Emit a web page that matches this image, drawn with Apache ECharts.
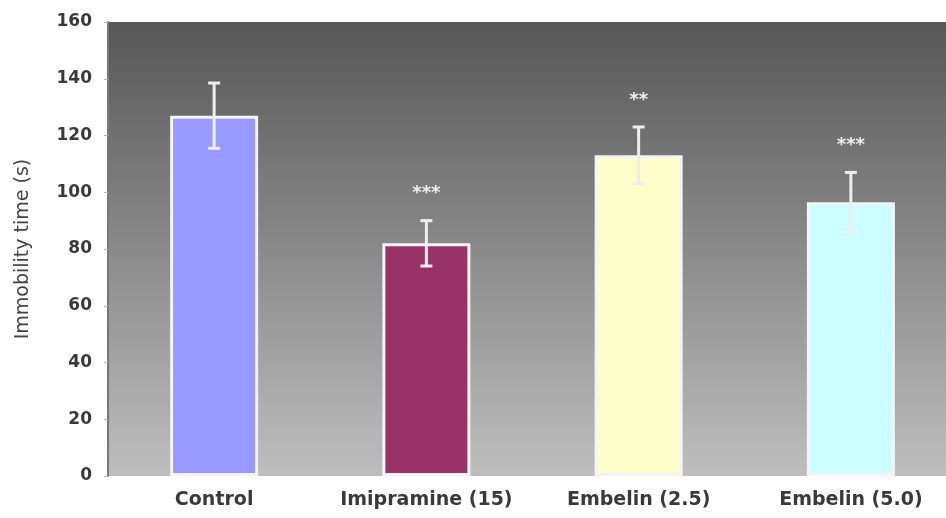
<!DOCTYPE html>
<html>
<head>
<meta charset="utf-8">
<script src="https://cdn.jsdelivr.net/npm/echarts@6/dist/echarts.min.js"></script>
<style>
  html, body { margin: 0; padding: 0; background: #fff; }
  #main { width: 946px; height: 518px; }
</style>
</head>
<body>
<div id="main"></div>
<script>
var groups = ['Control', 'Imipramine (15)', 'Embelin (2.5)', 'Embelin (5.0)'];
var meanTime = [127, 82, 113, 96.5];
var semTime = [11.5, 8, 10, 10.5];
var stars = ['', '***', '**', '***'];
var barColors = ['#9999ff', '#993366', '#ffffcc', '#ccffff'];
var yTicks = [0, 160, 20];

var chart = echarts.init(document.getElementById('main'));

var barData = meanTime.map(function (v, i) {
    return { value: v, itemStyle: { color: barColors[i] } };
});
var errData = meanTime.map(function (v, i) {
    return [i, v - semTime[i], v + semTime[i], stars[i]];
});

var option = {
    animation: false,
    backgroundColor: '#ffffff',
    grid: {
        left: 108,
        top: 22,
        width: 849,
        bottom: 42,
        outerBoundsMode: 'none',
        show: true,
        borderWidth: 0,
        backgroundColor: new echarts.graphic.LinearGradient(0, 0, 0, 1, [
            { offset: 0, color: '#575757' },
            { offset: 0.5, color: '#8a8a8a' },
            { offset: 1, color: '#bebebe' }
        ])
    },
    xAxis: {
        type: 'category',
        data: groups,
        axisLine: { show: false },
        axisTick: { show: false },
        axisLabel: {
            interval: 0,
            color: '#3a3a3a',
            fontFamily: 'DejaVu Sans, sans-serif',
            fontSize: 19,
            fontWeight: 'bold',
            margin: 15
        }
    },
    yAxis: {
        type: 'value',
        min: yTicks[0],
        max: yTicks[1],
        interval: yTicks[2],
        name: 'Immobility time (s)',
        nameLocation: 'middle',
        nameGap: 75,
        nameTextStyle: {
            color: '#444',
            fontFamily: 'DejaVu Sans, sans-serif',
            fontSize: 19
        },
        axisLine: { show: true, lineStyle: { color: '#777', width: 2 } },
        axisTick: { show: true, length: 4, lineStyle: { color: '#bbb' } },
        splitLine: { show: false },
        axisLabel: {
            color: '#3a3a3a',
            fontFamily: 'DejaVu Sans, sans-serif',
            fontSize: 17,
            fontWeight: 'bold',
            margin: 16
        }
    },
    series: [
        {
            type: 'bar',
            data: barData,
            barWidth: 88,
            itemStyle: { borderColor: '#f4f4f8', borderWidth: 3 }
        },
        {
            type: 'custom',
            data: errData,
            z: 10,
            renderItem: function (params, api) {
                var x = api.value(0);
                var lo = api.coord([x, api.value(1)]);
                var hi = api.coord([x, api.value(2)]);
                var cap = 6;
                var st = { stroke: '#eeeeee', lineWidth: 3 };
                return {
                    type: 'group',
                    children: [
                        { type: 'line', shape: { x1: hi[0], y1: hi[1], x2: lo[0], y2: lo[1] }, style: st },
                        { type: 'line', shape: { x1: hi[0] - cap, y1: hi[1], x2: hi[0] + cap, y2: hi[1] }, style: st },
                        { type: 'line', shape: { x1: lo[0] - cap, y1: lo[1], x2: lo[0] + cap, y2: lo[1] }, style: st },
                        {
                            type: 'text',
                            style: {
                                text: api.value(3),
                                x: hi[0],
                                y: hi[1] - 18,
                                align: 'center',
                                verticalAlign: 'bottom',
                                fill: '#f0f0f0',
                                font: 'bold 18px DejaVu Sans, sans-serif'
                            }
                        }
                    ]
                };
            }
        }
    ]
};

chart.setOption(option);
</script>
</body>
</html>
